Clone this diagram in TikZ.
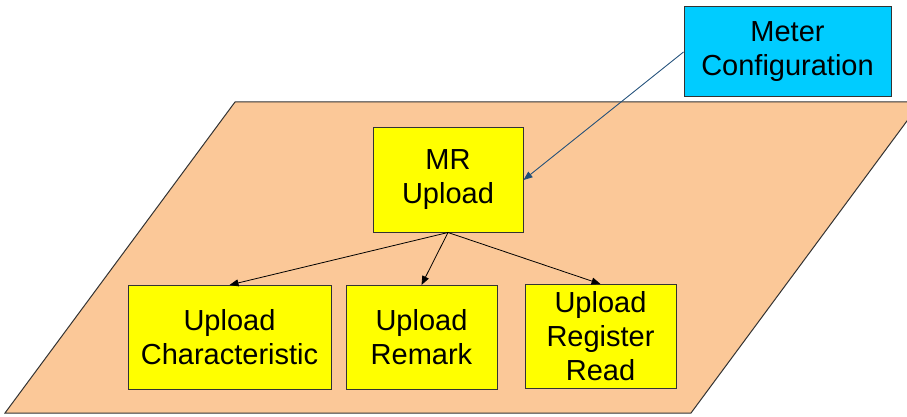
\documentclass[tikz,border=0pt]{standalone}
\usepackage{fontspec}
\setmainfont{Liberation Sans}
\usetikzlibrary{arrows.meta,positioning}
\definecolor{peach}{HTML}{FBC898}
\definecolor{boxyellow}{HTML}{FFFF00}
\definecolor{cfgcyan}{HTML}{00CCFF}
\definecolor{linkblue}{HTML}{1F4E79}
\definecolor{rim}{HTML}{333333}

\begin{document}
\begin{tikzpicture}[
  x=1pt, y=-1pt,
  box/.style={draw=rim, line width=1pt, fill=boxyellow, align=center, inner sep=0pt,
    minimum height=104pt, font=\fontsize{29}{34}\selectfont},
  cfg/.style={box, fill=cfgcyan, minimum width=207pt, minimum height=90pt},
  ar/.style={-{Triangle[length=9pt,width=7pt]}, line width=0.8pt, draw=black},
]
\useasboundingbox (0,0) rectangle (907,417);
% the plane behind the upload records
\begin{scope}
  \clip (0,0) rectangle (907,417);
  \draw[rim, line width=1pt, fill=peach] (235,102) -- (921,102) -- (691,413) -- (5,413) -- cycle;
\end{scope}
\node[cfg] (meter) at (787.5,52) {Meter\\Configuration};
\node[box, minimum width=150pt] (mr) at (448,180) {MR\\Upload};
\node[box, minimum width=203pt] (char) at (229.5,337.5) {Upload\\Characteristic};
\node[box, minimum width=151pt] (remark) at (421.5,337.5) {Upload\\Remark};
\node[box, minimum width=151pt] (regread) at (600.5,336.5) {Upload\\Register\\Read};
\draw[ar, draw=linkblue, fill=linkblue] (meter.west) -- (mr.east);
\draw[ar] (mr.south) -- (char.north);
\draw[ar] (mr.south) -- (remark.north);
\draw[ar] (mr.south) -- (regread.north);
\end{tikzpicture}
\end{document}
